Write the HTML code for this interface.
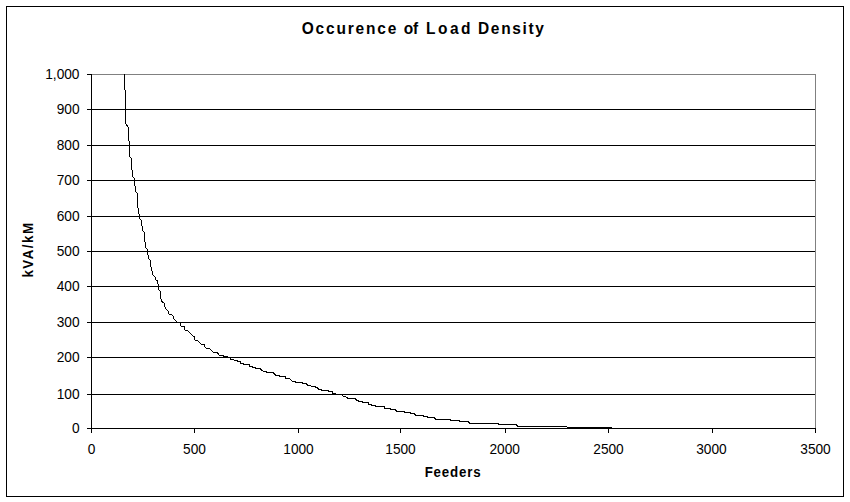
<!DOCTYPE html><html><head><meta charset="utf-8"><title>Occurence of Load Density</title><style>
html,body{margin:0;padding:0;background:#fff;}
body{width:850px;height:502px;position:relative;overflow:hidden;font-family:"Liberation Sans",sans-serif;color:#000;}
.t{position:absolute;white-space:nowrap;line-height:1;}
.yl{font-size:13.7px;text-align:right;width:60px;left:19.5px;height:14px;line-height:14px;transform:scaleY(1.08);margin-top:1.2px;}
.xl{font-size:13.7px;text-align:center;width:60px;height:14px;line-height:14px;top:443.4px;transform:scaleY(1.08);}
.title{font-size:15.5px;font-weight:bold;left:-1px;width:850px;text-align:center;top:19.5px;line-height:18px;letter-spacing:1.76px;}
.tw{font-size:15.5px;font-weight:bold;top:19.8px;line-height:18px;transform:scaleY(1.1);transform-origin:50% 50%;}
.xt{font-size:13.33px;font-weight:bold;left:353px;width:200px;text-align:center;top:464.7px;line-height:15px;letter-spacing:0.8px;transform:scaleY(1.03);}
.yt{font-size:13.33px;font-weight:bold;left:-72px;top:242.3px;width:200px;height:15px;line-height:15px;text-align:center;transform:rotate(-90deg) scaleY(1.06);transform-origin:center center;letter-spacing:1.5px;}

</style></head><body>
<svg width="850" height="502" viewBox="0 0 850 502" style="position:absolute;left:0;top:0" shape-rendering="crispEdges">
<rect x="0" y="0" width="850" height="502" fill="#fff"/>
<rect x="6.5" y="6.5" width="837" height="490" fill="none" stroke="#000" stroke-width="1"/>
<path d="M91 74.5H815.5V428" fill="none" stroke="#808080" stroke-width="1"/>
<rect x="87" y="109" width="728" height="1" fill="#000"/>
<rect x="87" y="145" width="728" height="1" fill="#000"/>
<rect x="87" y="180" width="728" height="1" fill="#000"/>
<rect x="87" y="216" width="728" height="1" fill="#000"/>
<rect x="87" y="251" width="728" height="1" fill="#000"/>
<rect x="87" y="286" width="728" height="1" fill="#000"/>
<rect x="87" y="322" width="728" height="1" fill="#000"/>
<rect x="87" y="357" width="728" height="1" fill="#000"/>
<rect x="87" y="394" width="728" height="1" fill="#000"/>
<rect x="87" y="74" width="4" height="1" fill="#000"/>
<rect x="91" y="74" width="1" height="359" fill="#000"/>
<rect x="87" y="428" width="729" height="1" fill="#000"/>
<rect x="91" y="428" width="1" height="5" fill="#000"/>
<rect x="194" y="428" width="1" height="5" fill="#000"/>
<rect x="298" y="428" width="1" height="5" fill="#000"/>
<rect x="400" y="428" width="1" height="5" fill="#000"/>
<rect x="505" y="428" width="1" height="5" fill="#000"/>
<rect x="608" y="428" width="1" height="5" fill="#000"/>
<rect x="712" y="428" width="1" height="5" fill="#000"/>
<rect x="815" y="428" width="1" height="5" fill="#000"/>
<polyline points="124.5,74 124.5,89.5 125.5,90.5 125.5,123.5 128.5,127.5 128.5,140.5 129.5,141.5 129.5,156.5 131.5,158.5 131.5,169.5 132.5,170.5 132.5,176.5 134.5,178.5 134.5,185.5 135.5,186.5 135.5,191.5 137.5,193.5 137.5,207.5 138.5,208.5 138.5,213.5 139.5,214.5 139.5,218.5 141.5,220.5 141.5,225.5 142.5,226.5 142.5,230.5 144.5,232.5 144.5,241.5 145.5,242.5 145.5,247.5 147.5,249.5 147.5,254.5 148.5,255.5 148.5,258.5 150.5,260.5 150.5,266.5 151.5,267.5 151.5,270.5 152.5,271.5 152.5,274.5 155.5,277.5 155.5,279.5 156.5,280.5 157.5,280.5 157.5,283.5 158.5,284.5 158.5,289.5 160.5,291.5 160.5,298.5 161.5,299.5 161.5,301.5 163.5,302.5 164.5,303.5 164.5,306.5 165.5,307.5 165.5,308.5 168.5,311.5 168.5,313.5 169.5,314.5 171.5,314.5 172.5,315.5 173.5,316.5 173.5,318.5 176.5,321.5 177.5,322.5 179.5,322.5 180.5,323.5 180.5,325.5 181.5,326.5 184.5,326.5 184.5,329.5 185.5,330.5 187.5,330.5 188.5,331.5 193.5,336.5 194.5,336.5 194.5,339.5 195.5,340.5 197.5,340.5 201.5,344.5 204.5,344.5 204.5,346.5 205.5,347.5 206.5,348.5 209.5,348.5 212.5,351.5 213.5,352.5 217.5,352.5 218.5,354.5 219.5,355.5 223.5,355.5 223.5,356.5 227.5,356.5 228.5,357.5 230.5,357.5 230.5,359.5 233.5,359.5 234.5,360.5 237.5,360.5 237.5,361.5 240.5,361.5 240.5,363.5 243.5,363.5 243.5,364.5 249.5,364.5 249.5,366.5 252.5,366.5 252.5,367.5 255.5,367.5 255.5,368.5 260.5,368.5 261.5,370.5 262.5,370.5 263.5,371.5 266.5,371.5 266.5,372.5 273.5,372.5 274.5,374.5 275.5,374.5 275.5,375.5 279.5,375.5 279.5,376.5 285.5,376.5 285.5,378.5 289.5,378.5 290.5,379.5 292.5,381.5 295.5,381.5 295.5,382.5 298.5,382.5 302.5,382.5 302.5,383.5 306.5,383.5 307.5,385.5 310.5,385.5 311.5,386.5 315.5,386.5 315.5,387.5 317.5,387.5 318.5,389.5 321.5,389.5 321.5,390.5 328.5,390.5 328.5,391.5 332.5,391.5 332.5,393.5 335.5,393.5 336.5,394.5 341.5,394.5 342.5,395.5 343.5,396.5 345.5,396.5 346.5,397.5 347.5,397.5 347.5,398.5 355.5,398.5 356.5,400.5 358.5,400.5 358.5,401.5 362.5,401.5 362.5,402.5 368.5,402.5 368.5,404.5 371.5,404.5 371.5,405.5 375.5,405.5 375.5,406.5 384.5,406.5 384.5,408.5 390.5,408.5 390.5,409.5 395.5,409.5 396.5,411.5 404.5,411.5 404.5,412.5 410.5,412.5 410.5,413.5 414.5,413.5 415.5,415.5 423.5,415.5 423.5,416.5 427.5,416.5 427.5,417.5 434.5,417.5 435.5,419.5 450.5,419.5 450.5,420.5 459.5,420.5 459.5,421.5 468.5,421.5 469.5,423.5 498.5,423.5 498.5,424.5 516.5,424.5 517.5,426.5 566.5,426.5 567.5,427.5 612,427.5" fill="none" stroke="#000" stroke-width="1"/>
</svg>
<div class="t yl" style="top:67px">1,000</div>
<div class="t yl" style="top:102px">900</div>
<div class="t yl" style="top:138px">800</div>
<div class="t yl" style="top:173px">700</div>
<div class="t yl" style="top:209px">600</div>
<div class="t yl" style="top:244px">500</div>
<div class="t yl" style="top:279px">400</div>
<div class="t yl" style="top:315px">300</div>
<div class="t yl" style="top:350px">200</div>
<div class="t yl" style="top:387px">100</div>
<div class="t yl" style="top:421px">0</div>
<div class="t xl" style="left:61.5px">0</div>
<div class="t xl" style="left:164.5px">500</div>
<div class="t xl" style="left:268.5px">1000</div>
<div class="t xl" style="left:370.5px">1500</div>
<div class="t xl" style="left:474.7px">2000</div>
<div class="t xl" style="left:578.5px">2500</div>
<div class="t xl" style="left:681.4px">3000</div>
<div class="t xl" style="left:785.5px">3500</div>
<div class="t tw" style="left:301.70px;letter-spacing:1.82px">Occurence</div>
<div class="t tw" style="left:403.70px;letter-spacing:-0.20px">of</div>
<div class="t tw" style="left:426.00px;letter-spacing:2.50px">Load</div>
<div class="t tw" style="left:478.00px;letter-spacing:1.66px">Density</div>
<div class="t xt">Feeders</div>
<div class="t yt">kVA/kM</div>
</body></html>
